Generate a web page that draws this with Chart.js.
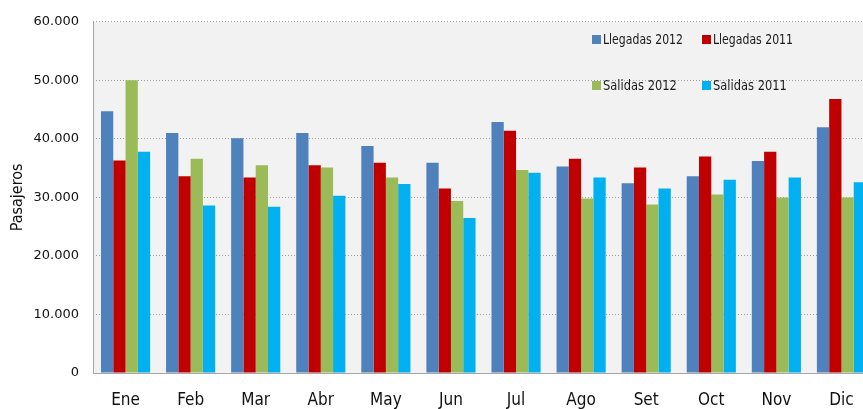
<!DOCTYPE html>
<html>
<head>
<meta charset="utf-8">
<script src="https://cdn.jsdelivr.net/npm/chart.js@4.4.1/dist/chart.umd.min.js"></script>
<style>
  html, body { margin: 0; padding: 0; background: #fff; overflow: hidden; }
  #wrap { width: 874px; height: 409px; }
</style>
</head>
<body>
<div id="wrap"><canvas id="chart"></canvas></div>
<script>
const months = ['Ene', 'Feb', 'Mar', 'Abr', 'May', 'Jun', 'Jul', 'Ago', 'Set', 'Oct', 'Nov', 'Dic'];
const llegadas2012 = [44700, 41000, 40100, 41000, 38800, 35900, 42900, 35300, 32400, 33600, 36200, 42000];
const llegadas2011 = [36300, 33600, 33400, 35500, 35900, 31500, 41400, 36600, 35100, 37000, 37800, 46800];
const salidas2012 = [50000, 36600, 35500, 35100, 33400, 29400, 34700, 29800, 28800, 30500, 30000, 30000];
const salidas2011 = [37800, 28600, 28400, 30300, 32300, 26500, 34200, 33400, 31500, 33000, 33400, 32600];

const fmt = v => String(v).replace(/\B(?=(\d{3})+(?!\d))/g, '.');

// plot background, left axis line and the legend placed inside the plot
const plotDecor = {
  id: 'plotDecor',
  beforeDraw(chart) {
    const a = chart.chartArea, ctx = chart.ctx;
    ctx.save();
    ctx.fillStyle = '#f2f2f2';
    ctx.fillRect(a.left, a.top, a.right - a.left, a.bottom - a.top);
    ctx.restore();
  },
  afterDraw(chart) {
    const a = chart.chartArea, ctx = chart.ctx;
    ctx.save();
    ctx.strokeStyle = '#a6a6a6';
    ctx.lineWidth = 1;
    ctx.beginPath();
    ctx.moveTo(a.left + 0.5, a.top);
    ctx.lineTo(a.left + 0.5, a.bottom);
    ctx.stroke();
    const pos = [[592, 40], [702, 40], [592, 86], [702, 86]];
    ctx.font = '14px "DejaVu Sans Condensed", "DejaVu Sans", sans-serif';
    ctx.textBaseline = 'middle';
    chart.data.datasets.forEach((ds, i) => {
      const [x, y] = pos[i];
      ctx.fillStyle = ds.backgroundColor;
      ctx.fillRect(x, y - 5, 9, 9);
      ctx.fillStyle = '#1a1a1a';
      // squeeze the label to the narrow width of the original
      ctx.fillText(ds.label, x + 11, y, 80 * ds.label.length / 13);
    });
    ctx.restore();
  }
};

new Chart(document.getElementById('chart'), {
  type: 'bar',
  data: {
    labels: months,
    datasets: [
      { label: 'Llegadas 2012', data: llegadas2012, backgroundColor: '#4f81bd' },
      { label: 'Llegadas 2011', data: llegadas2011, backgroundColor: '#c00000' },
      { label: 'Salidas 2012', data: salidas2012, backgroundColor: '#9bbb59' },
      { label: 'Salidas 2011', data: salidas2011, backgroundColor: '#00b0f0' }
    ]
  },
  options: {
    responsive: true,
    maintainAspectRatio: false,
    animation: false,
    layout: { padding: { top: 15, left: 0, right: 0, bottom: 0 } },
    datasets: { bar: { categoryPercentage: 0.755, barPercentage: 1.0 } },
    plugins: { legend: { display: false }, tooltip: { enabled: false } },
    scales: {
      x: {
        grid: { display: false, drawTicks: false },
        border: { display: true, color: '#a6a6a6' },
        ticks: { padding: 17, color: '#111', font: { family: '"Liberation Sans Narrow", "DejaVu Sans Condensed", sans-serif', size: 17 } },
        afterFit(scale) { scale.height = 36; }
      },
      y: {
        min: 0,
        max: 60000,
        ticks: { stepSize: 10000, padding: 14, color: '#111', callback: v => fmt(v), font: { family: '"DejaVu Sans", sans-serif', size: 13 } },
        grid: { color: '#a0a0a0', drawTicks: false },
        border: { display: false, dash: [1, 2] },
        title: { display: true, text: 'Pasajeros', color: '#111', padding: { top: 8, bottom: 0 }, font: { family: '"Liberation Sans Narrow", "DejaVu Sans Condensed", sans-serif', size: 16 } },
        afterFit(scale) { scale.width = 93; }
      }
    }
  },
  plugins: [plotDecor]
});
</script>
</body>
</html>
